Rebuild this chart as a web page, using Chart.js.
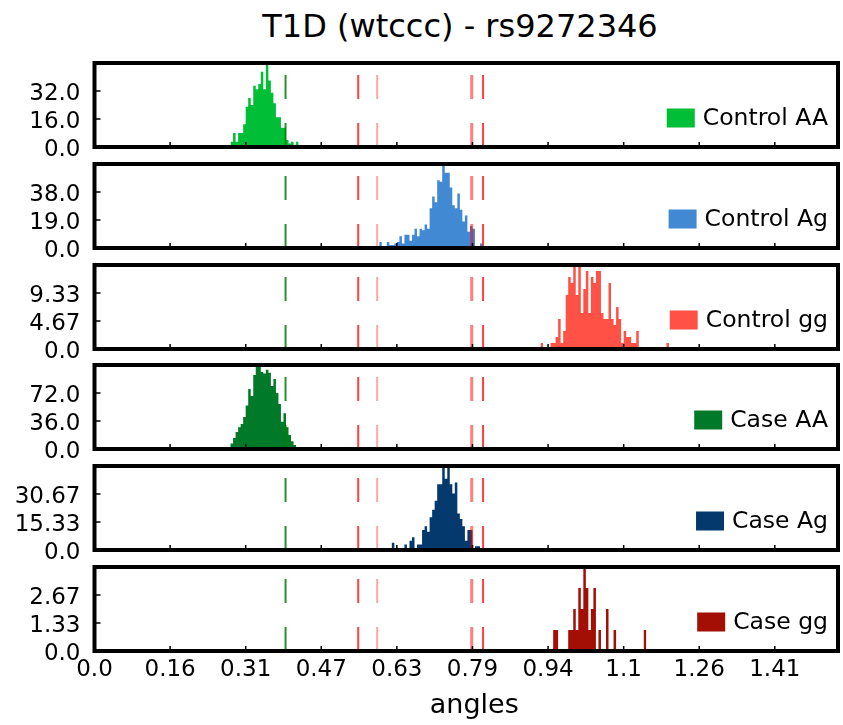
<!DOCTYPE html>
<html>
<head>
<meta charset="utf-8">
<script src="https://cdn.jsdelivr.net/npm/chart.js@4.4.0/dist/chart.umd.min.js"></script>
<style>
  body { margin: 0; background: #fff; }
  #wrap { position: relative; width: 843px; height: 725px; font-family: 'DejaVu Sans', sans-serif; }
  #title { position: absolute; left: 60px; width: 800px; top: 10px; text-align: center; font-size: 32px; line-height: 32px; color: #000; }
  canvas { position: absolute; left: 0; }
</style>
</head>
<body>
<div id="wrap">
  <div id="title">T1D (wtccc) - rs9272346</div>
</div>
<script>
// histogram bins are pi/600 wide, counted from 0
const binWidth = Math.PI / 600;
const xMax = 1.545;

const xTickValues = [0, 0.1571, 0.3142, 0.4712, 0.6283, 0.7854, 0.9425, 1.0996, 1.2566, 1.4137];
const xTickLabels = ['0.0', '0.16', '0.31', '0.47', '0.63', '0.79', '0.94', '1.1', '1.26', '1.41'];

const panelNames = ['Control AA', 'Control Ag', 'Control gg', 'Case AA', 'Case Ag', 'Case gg'];

// first bin index + counts per bin
const controlAAStart = 54;
const controlAACounts = [3, 8, 3, 8, 8, 13, 23, 28, 24, 35, 33, 36, 43, 33, 48, 38, 31, 25, 17, 17, 11, 11, 4, 2, 3, 1, 3];
const controlAgStart = 113;
const controlAgCounts = [4, 0, 0, 4, 2, 2, 3, 4, 8, 3, 9, 9, 5, 9, 13, 8, 13, 12, 16, 13, 27, 35, 31, 46, 45, 57, 51, 51, 41, 29, 27, 37, 26, 18, 22, 11, 15, 13, 1, 0, 3, 0, 1];
const controlggStart = 177;
const controlggCounts = [1, 0, 0, 0, 1, 1, 2, 5, 1, 3, 9, 12, 11, 14, 9, 14, 6, 10, 13, 6, 12, 11, 13, 13, 6, 5, 5, 11, 5, 4, 7, 5, 1, 3, 2, 2, 1, 1, 3, 0, 0, 0, 0, 0, 0, 0, 0, 0, 0, 0, 1];
const caseAAStart = 50;
const caseAACounts = [1, 1, 1, 2, 7, 14, 22, 28, 32, 41, 56, 77, 68, 95, 108, 106, 99, 97, 102, 98, 81, 90, 72, 58, 35, 46, 28, 18, 10, 5, 2, 1, 1];
const caseAgStart = 109;
const caseAgCounts = [1, 0, 0, 0, 0, 0, 0, 0, 0, 4, 0, 1, 1, 0, 3, 1, 5, 7, 1, 3, 3, 11, 13, 10, 18, 22, 27, 36, 36, 46, 39, 46, 36, 31, 37, 20, 17, 13, 5, 11, 11, 1, 2, 2, 1];
const caseggStart = 182;
const caseggCounts = [1, 1, 0, 0, 0, 0, 1, 1, 2, 1, 3, 2, 4, 3, 1, 2, 3, 0, 1, 0, 0, 2, 0, 0, 1, 0, 0, 0, 0, 0, 0, 0, 0, 0, 0, 0, 1];

const yMaxes = [48, 57, 14, 108, 46, 4];
const yTickValues = [
  [0, 16, 32],
  [0, 19, 38],
  [0, 4.667, 9.333],
  [0, 36, 72],
  [0, 15.333, 30.667],
  [0, 1.333, 2.667]
];
const yTickLabels = [
  ['0.0', '16.0', '32.0'],
  ['0.0', '19.0', '38.0'],
  ['0.0', '4.67', '9.33'],
  ['0.0', '36.0', '72.0'],
  ['0.0', '15.33', '30.67'],
  ['0.0', '1.33', '2.67']
];

// vertical reference angles
const greenLine = 0.397;
const redLines = [0.548, 0.5874, 0.7839, 0.8074];

const barColors = ['#00bf36', '#4189d3', '#ff5145', '#007a28', '#03396c', '#a30f05'];
const redAlpha = [0.75, 0.35, 0.5, 0.75];
const redWidth = [2, 2, 3, 2];

const starts = [controlAAStart, controlAgStart, controlggStart, caseAAStart, caseAgStart, caseggStart];
const counts = [controlAACounts, controlAgCounts, controlggCounts, caseAACounts, caseAgCounts, caseggCounts];

const FONT = 'DejaVu Sans';

// step outline: each count held from its bin's left edge to the next edge
function toSteps(start, cs) {
  const pts = cs.map((c, i) => ({ x: (start + i) * binWidth, y: c }));
  pts.push({ x: (start + cs.length) * binWidth, y: 0 });
  return pts;
}

const framePlugin = {
  id: 'frame',
  afterDraw(chart, args, opts) {
    const { ctx, chartArea: a, scales } = chart;
    ctx.save();
    ctx.strokeStyle = '#000';
    ctx.lineWidth = 1.5;
    ctx.beginPath();
    xTickValues.forEach(v => {
      const px = scales.x.getPixelForValue(v);
      ctx.moveTo(px, a.bottom);
      ctx.lineTo(px, a.bottom - 5);
    });
    scales.y.ticks.forEach(t => {
      const py = scales.y.getPixelForValue(t.value);
      ctx.moveTo(a.left, py);
      ctx.lineTo(a.left + 6, py);
    });
    ctx.stroke();
    ctx.lineWidth = 4;
    ctx.strokeRect(a.left, a.top, a.right - a.left, a.bottom - a.top);

    // legend
    ctx.font = '23.5px "' + FONT + '"';
    const w = ctx.measureText(opts.label).width;
    const tx = a.right - 10 - w;
    const cy = a.top + 55;
    ctx.fillStyle = opts.color;
    ctx.fillRect(tx - 8 - 28, cy - 9.5, 28, 19);
    ctx.fillStyle = '#000';
    ctx.textBaseline = 'middle';
    ctx.fillText(opts.label, tx, cy + 1);

    if (opts.xTitle) {
      ctx.font = '27px "' + FONT + '"';
      ctx.textAlign = 'center';
      ctx.textBaseline = 'alphabetic';
      ctx.fillText(opts.xTitle, (a.left + a.right) / 2 + 8, chart.height - 12);
    }
    ctx.restore();
  }
};

const wrap = document.getElementById('wrap');

panelNames.forEach((name, k) => {
  const isLast = k === panelNames.length - 1;
  const areaTop = 63 + 100.8 * k;
  const canvas = document.createElement('canvas');
  const h = Math.round(isLast ? 725 - (areaTop - 14) : 112);
  canvas.width = 843;
  canvas.height = h;
  canvas.style.top = (areaTop - 14) + 'px';
  wrap.appendChild(canvas);

  const yMax = yMaxes[k];
  const lineSets = [{
    data: [{ x: greenLine, y: 0 }, { x: greenLine, y: yMax }],
    borderColor: 'rgba(0,128,0,0.85)',
    borderWidth: 2,
    borderDash: [24, 24],
    order: 0
  }];
  redLines.forEach((v, j) => {
    lineSets.push({
      data: [{ x: v, y: 0 }, { x: v, y: yMax }],
      borderColor: 'rgba(255,0,0,' + redAlpha[j] + ')',
      borderWidth: redWidth[j],
      borderDash: [24, 24],
      order: 0
    });
  });

  new Chart(canvas, {
    type: 'line',
    data: {
      datasets: [{
        label: name,
        data: toSteps(starts[k], counts[k]),
        stepped: true,
        fill: 'origin',
        backgroundColor: barColors[k],
        borderColor: 'rgba(0,0,0,0)',
        borderWidth: 0,
        order: 1
      }].concat(lineSets)
    },
    options: {
      responsive: false,
      animation: false,
      elements: { point: { radius: 0 }, line: { fill: false } },
      layout: { padding: { top: 14, bottom: isLast ? 0 : 14, left: 0, right: 5 } },
      plugins: {
        legend: { display: false },
        tooltip: { enabled: false },
        frame: { label: name, color: barColors[k], xTitle: isLast ? 'angles' : '' }
      },
      scales: {
        x: {
          type: 'linear',
          min: 0,
          max: xMax,
          offset: false,
          afterBuildTicks: s => { s.ticks = xTickValues.map(v => ({ value: v })); },
          afterFit: s => {
            s.height = isLast ? h - 14 - 84 : 0;
            s.paddingLeft = 0; s.paddingRight = 0;
          },
          grid: { display: false, drawTicks: false },
          border: { display: false },
          ticks: {
            display: isLast,
            autoSkip: false,
            maxRotation: 0,
            padding: 5,
            color: '#000',
            font: { family: FONT, size: 23 },
            callback: (v, i) => xTickLabels[i]
          }
        },
        y: {
          min: 0,
          max: yMax,
          afterBuildTicks: s => { s.ticks = yTickValues[k].map(v => ({ value: v })); },
          afterFit: s => {
            s.width = 94.5;
            s.paddingTop = 0; s.paddingBottom = 0;
          },
          grid: { display: false, drawTicks: false },
          border: { display: false },
          ticks: {
            padding: 14,
            labelOffset: 3,
            color: '#000',
            font: { family: FONT, size: 23 },
            callback: (v, i) => yTickLabels[k][i]
          }
        }
      }
    },
    plugins: [framePlugin]
  });
});
</script>
</body>
</html>
